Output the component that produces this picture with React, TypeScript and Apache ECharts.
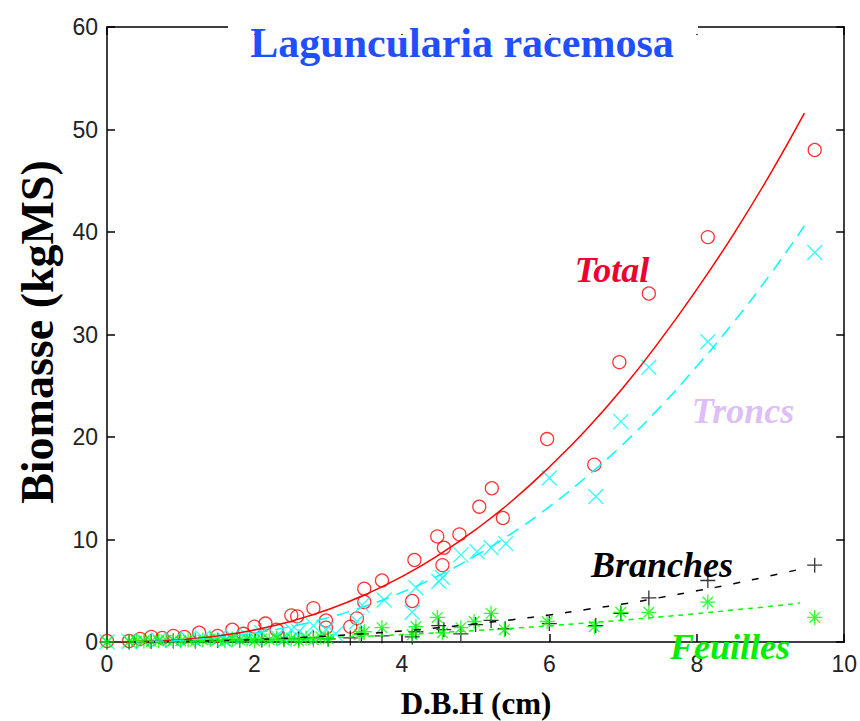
import React, { useEffect, useRef } from "react";
import * as echarts from "echarts";

// ---- Data ----
const xTickInterval = 2;
const yTickInterval = 10;

const totalPoints: [number, number][] = [
  [0, 0.1], [0.3, 0.1], [0.45, 0.3], [0.6, 0.5], [0.75, 0.4], [0.9, 0.6], [1.05, 0.5],
  [1.25, 0.9], [1.5, 0.6], [1.7, 1.2], [1.85, 0.8], [2.0, 1.5], [2.15, 1.8], [2.3, 1.2],
  [2.5, 2.6], [2.58, 2.5], [2.8, 3.3], [2.97, 2.1], [2.97, 1.4], [3.3, 1.5], [3.39, 2.3],
  [3.49, 3.9], [3.49, 5.2], [3.73, 6.0], [4.14, 4.0], [4.17, 8.0], [4.48, 10.3], [4.55, 7.5],
  [4.57, 9.2], [4.78, 10.5], [5.05, 13.2], [5.22, 15.0], [5.37, 12.1], [5.97, 19.8],
  [6.61, 17.3], [6.95, 27.3], [7.35, 34.0], [8.15, 39.5], [9.6, 48.0],
];

const troncsPoints: [number, number][] = [
  [0, 0], [0.3, 0.05], [0.5, 0.1], [0.7, 0.2], [0.9, 0.2], [1.1, 0.3], [1.3, 0.4], [1.5, 0.3],
  [1.6, 0.2], [1.7, 0.5], [1.9, 0.6], [2.0, 0.4], [2.1, 0.9], [2.3, 0.6], [2.4, 0.3],
  [2.5, 1.2], [2.6, 1.0], [2.7, 0.5], [2.8, 1.6], [2.97, 1.2], [3.1, 0.8], [3.39, 2.0],
  [3.46, 3.6], [3.76, 4.1], [4.14, 2.9], [4.19, 5.3], [4.5, 5.9], [4.55, 6.3], [4.8, 8.5],
  [5.02, 8.8], [5.21, 9.2], [5.41, 9.6], [6.0, 16.0], [6.63, 14.2], [6.97, 21.5],
  [7.35, 26.8], [8.15, 29.3], [9.6, 38.0],
];

const branchesPoints: [number, number][] = [
  [0, 0], [0.3, 0], [0.6, 0.05], [0.9, 0.1], [1.2, 0.1], [1.5, 0.15], [1.8, 0.2], [2.1, 0.2],
  [2.4, 0.3], [2.6, 0.3], [2.8, 0.4], [3.0, 0.3], [3.3, 0.4], [3.45, 0.8], [3.73, 0.6],
  [4.14, 0.5], [4.19, 1.0], [4.5, 1.6], [4.57, 1.2], [4.8, 0.8], [5.0, 1.7], [5.21, 2.1],
  [5.4, 1.3], [6.0, 1.8], [6.63, 1.6], [6.97, 2.8], [7.35, 4.3], [8.15, 6.0], [9.6, 7.5],
];

const feuillesPoints: [number, number][] = [
  [0, 0], [0.3, 0.05], [0.4, 0.1], [0.5, 0.1], [0.6, 0.05], [0.7, 0.1], [0.8, 0.2],
  [0.9, 0.15], [1.0, 0.1], [1.1, 0.2], [1.2, 0.1], [1.3, 0.2], [1.4, 0.3], [1.5, 0.2],
  [1.6, 0.1], [1.7, 0.3], [1.8, 0.2], [1.9, 0.3], [2.0, 0.1], [2.1, 0.3], [2.2, 0.2],
  [2.3, 0.4], [2.4, 0.2], [2.5, 0.4], [2.6, 0.1], [2.7, 0.4], [2.8, 0.2], [2.9, 0.5],
  [3.0, 0.3], [3.42, 0.7], [3.49, 1.0], [3.73, 1.4], [4.14, 0.7], [4.19, 1.5], [4.48, 2.4],
  [4.55, 0.9], [4.8, 1.4], [4.98, 2.0], [5.21, 2.8], [5.39, 1.2], [5.97, 2.0], [6.61, 1.5],
  [6.97, 2.9], [7.35, 2.9], [8.15, 3.9], [9.6, 2.4],
];

// fitted curves, values
const totalFit: [number, number][] = [
  [0.2, 0.005], [0.5, 0.04], [1, 0.22], [1.5, 0.59], [2, 1.18], [2.5, 2.03], [3, 3.17],
  [3.5, 4.61], [4, 6.37], [4.5, 8.49], [5, 10.96], [5.5, 13.8], [6, 17.08], [6.5, 20.7],
  [7, 24.8], [7.5, 29.4], [8, 34.4], [8.5, 39.8], [9, 45.7], [9.46, 51.6],
];
const troncsFit: [number, number][] = [
  [0.3, 0.01], [1, 0.16], [1.5, 0.43], [2, 0.88], [2.5, 1.52], [3, 2.38], [3.5, 3.49],
  [4, 4.85], [4.5, 6.49], [5, 8.42], [5.5, 10.65], [6, 13.2], [6.5, 16.1], [7, 19.3],
  [7.5, 22.9], [8, 26.9], [8.5, 31.2], [9, 35.9], [9.46, 40.6],
];
const branchesFit: [number, number][] = [
  [0.3, 0.003], [1, 0.05], [1.5, 0.13], [2, 0.24], [2.5, 0.39], [3, 0.58], [3.5, 0.81],
  [4, 1.08], [4.5, 1.4], [5, 1.77], [5.5, 2.18], [6, 2.64], [6.5, 3.17], [7, 3.71],
  [7.5, 4.33], [8, 4.99], [8.5, 5.69], [9, 6.46], [9.46, 7.2],
];
const feuillesFit: [number, number][] = [
  [0.3, 0.005], [1, 0.05], [1.5, 0.11], [2, 0.19], [2.5, 0.29], [3, 0.42], [3.5, 0.56],
  [4, 0.72], [4.5, 0.91], [5, 1.12], [5.5, 1.34], [6, 1.58], [6.5, 1.86], [7, 2.13],
  [7.5, 2.45], [8, 2.76], [8.5, 3.12], [9, 3.48], [9.4, 3.8],
];

const titleText = "Laguncularia racemosa";
const xName = "D.B.H (cm)";
const yName = "Biomasse (kgMS)";

const SYM_X = "path://M0 0L15 15M15 0L0 15";
const SYM_PLUS = "path://M7.5 0L7.5 15M0 7.5L15 7.5";
const SYM_STAR = "path://M7.5 0L7.5 15M0 7.5L15 7.5M2.2 2.2L12.8 12.8M12.8 2.2L2.2 12.8";

const axisCommon = {
  type: "value" as const,
  axisLine: { show: true, onZero: false, lineStyle: { color: "#000", width: 1.5 } },
  axisTick: { show: true, inside: true, length: 8, lineStyle: { color: "#000", width: 1.5 } },
  splitLine: { show: false },
};

const labelStyle = {
  color: "#222",
  fontSize: 23,
  fontFamily: "Liberation Sans",
};

function markerSeries(data: [number, number][], symbol: string, color: string, size: number) {
  return {
    type: "scatter" as const,
    data,
    symbol,
    symbolSize: size,
    itemStyle: { color: "rgba(0,0,0,0)", borderColor: color, borderWidth: 1.3 },
    silent: true,
  };
}

function fitSeries(data: [number, number][], color: string, dash: any) {
  return {
    type: "line" as const,
    data,
    smooth: true,
    showSymbol: false,
    symbol: "none",
    lineStyle: { color, width: 1.5, type: dash },
    silent: true,
  };
}

const labelText = (text: string, x: number, y: number, fill: string) => ({
  type: "text",
  x,
  y,
  z: 100,
  style: {
    text,
    fill,
    font: "italic bold 36px 'Liberation Serif'",
    align: "center",
    verticalAlign: "middle",
  },
});

export default function App() {
  const ref = useRef<HTMLDivElement>(null);
  useEffect(() => {
    if (!ref.current) return;
    const chart = echarts.init(ref.current, undefined, { renderer: "svg" });
    chart.setOption({
      animation: false,
      backgroundColor: "#fff",
      grid: { left: 107, right: 15, top: 27, bottom: 79 },
      xAxis: [
        {
          ...axisCommon,
          min: 0,
          max: 10,
          interval: xTickInterval,
          position: "bottom",
          axisLabel: { ...labelStyle, margin: 10 },
        },
        {
          ...axisCommon,
          min: 0,
          max: 10,
          interval: xTickInterval,
          position: "top",
          axisLabel: { show: false },
        },
      ],
      yAxis: [
        {
          ...axisCommon,
          min: 0,
          max: 60,
          interval: yTickInterval,
          position: "left",
          axisLabel: { ...labelStyle, margin: 9 },
        },
        {
          ...axisCommon,
          min: 0,
          max: 60,
          interval: yTickInterval,
          position: "right",
          axisLabel: { show: false },
        },
      ],
      series: [
        markerSeries(totalPoints, "circle", "#ff0000", 13),
        fitSeries(totalFit, "#ff0000", "solid"),
        markerSeries(troncsPoints, SYM_X, "#00ffff", 15),
        fitSeries(troncsFit, "#00ffff", [13, 8]),
        markerSeries(branchesPoints, SYM_PLUS, "#000000", 15),
        fitSeries(branchesFit, "#000000", [7, 12]),
        markerSeries(feuillesPoints, SYM_STAR, "#00ff00", 15),
        fitSeries(feuillesFit, "#00ff00", [5, 5]),
      ],
      graphic: [
        { type: "rect", z: 99, shape: { x: 228, y: 20, width: 470, height: 14 }, style: { fill: "#fff" } },
        {
          type: "text",
          x: 462,
          y: 43,
          z: 100,
          style: {
            text: titleText,
            fill: "#1f4fff",
            font: "bold 42px 'Liberation Serif'",
            align: "center",
            verticalAlign: "middle",
          },
        },
        labelText("Total", 612, 270, "#ee0030"),
        labelText("Troncs", 743, 411, "#dcbff7"),
        labelText("Branches", 662, 565, "#000000"),
        labelText("Feuilles", 730, 647, "#00ee00"),
        {
          type: "text",
          x: 476,
          y: 703,
          z: 100,
          style: {
            text: xName,
            fill: "#000",
            font: "bold 31px 'Liberation Serif'",
            align: "center",
            verticalAlign: "middle",
          },
        },
        {
          type: "text",
          x: 37,
          y: 332,
          rotation: Math.PI / 2,
          z: 100,
          style: {
            text: yName,
            fill: "#000",
            font: "bold 46px 'Liberation Serif'",
            align: "center",
            verticalAlign: "middle",
          },
        },
      ],
    });
    return () => chart.dispose();
  }, []);
  return (
    <div
      ref={ref}
      style={{ position: "fixed", left: 0, top: 0, width: 860, height: 721, background: "#fff" }}
    />
  );
}
